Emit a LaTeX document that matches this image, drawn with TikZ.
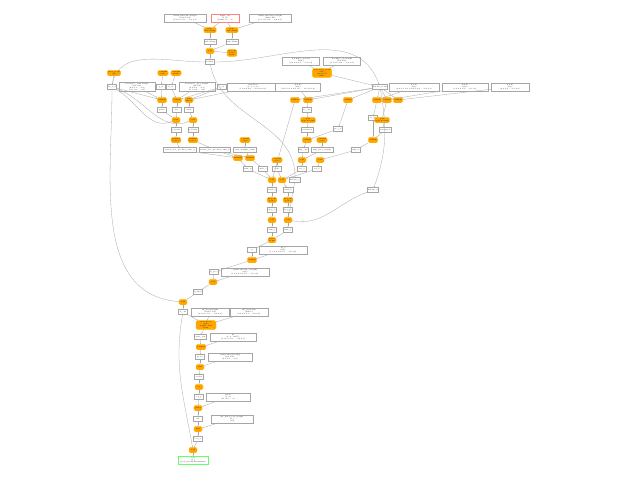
\documentclass[tikz,border=0pt]{standalone}
\usetikzlibrary{arrows.meta}
\definecolor{opfill}{RGB}{255,165,0}
\begin{document}
\begin{tikzpicture}[x=1pt,y=-1pt,
    every node/.style={font=\fontsize{1.7}{2}\selectfont, inner sep=0.8pt, align=center},
    op/.style={fill=opfill, draw=opfill!80!yellow, rounded corners=1.5pt, minimum width=8pt, minimum height=5.5pt},
    ten/.style={draw=gray!70, fill=white, minimum width=9pt, minimum height=5pt},
    par/.style={draw=gray!70, fill=white, minimum height=7.5pt},
    parred/.style={par, draw=red!50},
    outbox/.style={par, draw=green!60},
    conn/.style={-{Latex[length=1pt,width=1pt]}, draw=gray!70, line width=0.3pt}
]
\useasboundingbox (0,0) rectangle (640,480);

% top: embeddings
\node[par, minimum width=42pt] (p1) at (185,18) {transformer.wte.weight\\(50257, 64)\\{}[1.0 0.2 -0.1 ... 0.3 0.5]};
\node[parred, minimum width=28pt] (p2) at (225,18) {input\_ids\\(1, 8)\\{}[15496 11 ... 0]};
\node[par, minimum width=42pt] (p3) at (270,18) {transformer.wpe.weight\\(1024, 64)\\{}[0.1 -0.3 0.2 ... 0.0 0.1]};
\node[op] (o1) at (210,30) {aten::\\embedding};
\node[op] (o2) at (232,30) {aten::\\embedding};
\node[ten] (t1) at (210,42) {embedding};
\node[ten] (t2) at (232,42) {embedding};
\node[op] (o3) at (210,51) {add};
\node[op] (o4) at (232,53) {dropout\\p=0.1\\train};
\node[ten] (t3) at (210,62) {hidden};

% left block: attention
\node[op] (o5) at (114,73) {layer\_norm\\eps};
\node[op] (o6) at (163,73) {constant\\scale};
\node[op] (o7) at (176,73) {constant\\mask};
\node[ten] (t4) at (112,87) {ln\_1\_x};
\node[par, minimum width=36pt] (p4) at (137,87) {h.0.attn.c\_attn.weight\\(64, 192)\\{}[0.0 0.1 ... 0.2]\\{}[-0.1 0.3 ... 0.1]};
\node[ten] (t5) at (161,87) {q\_w};
\node[ten] (t6) at (171,87) {k\_w};
\node[par, minimum width=36pt] (p5) at (197,87) {h.0.attn.c\_proj.weight\\(64, 64)\\{}[0.2 0.0 ... 0.1]\\{}[0.1 -0.2 ... 0.0]};
\node[ten] (t7) at (222,87) {v\_w};
\node[par, minimum width=52pt] (p6) at (253,87) {attn.bias\\(1, 1, 8, 8)\\{}[1.0 0.0 0.0 ... 0.0 0.0 0.0]};
\node[op] (o8) at (162,100) {addmm};
\node[op] (o9) at (177,100) {addmm};
\node[op] (o10) at (189,100) {split\\dim=2};
\node[ten] (w1) at (162,110) {query};
\node[ten] (w2) at (177,110) {key};
\node[ten] (w3) at (189,110) {value};
\node[op] (o11) at (176,120) {view};
\node[op] (o12) at (193,120) {view};
\node[ten] (w4) at (176,130) {q\_heads};
\node[ten] (w5) at (193,130) {k\_heads};
\node[op] (o13) at (176,140) {permute\\0,2,1,3};
\node[op] (o14) at (193,140) {permute\\0,2,3,1};
\node[op] (o15p) at (245,140) {constant\\value};
\node[ten, minimum width=33pt] (b1) at (180,150) {scaled\_dot\_product\_attn\_q};
\node[ten, minimum width=29pt] (b2) at (215,150) {scaled\_dot\_product\_attn\_k};
\node[ten, minimum width=23pt] (b3) at (245,150) {attn\_weights\_value};
\node[op] (o15) at (238,158) {matmul};
\node[op] (o16) at (250,158) {matmul};
\node[op] (o16p) at (277,160) {constant\\scale};
\node[ten] (w6) at (248,169) {attn\_w};
\node[ten] (w7) at (263,169) {attn\_s};
\node[ten] (w8) at (277,169) {scale};

% right block: mlp
\node[par, minimum width=37pt] (p7) at (301,61) {h.0.mlp.c\_fc.bias\\(256,)\\{}[0.0 0.1 0.0 ... 0.1 0.2]};
\node[par, minimum width=37pt] (p8) at (342,61) {h.0.mlp.c\_fc.weight\\(64, 256)\\{}[0.1 0.0 -0.2 ... 0.1 0.0]};
\node[op, minimum width=16pt] (o20) at (322,73) {aten::layer\_norm\\(64,)\\eps=1e-05\\affine};
\node[par, minimum width=45pt] (pa) at (298,87) {h.0.ln\\(64,)\\{}[1.0 1.0 1.0 0.9 1.0 ... 1.0 1.0 1.0]};
\node[ten] (tv) at (380,87) {hidden\_norm};
\node[par, minimum width=50pt] (pb) at (414,87) {h.0.ln\\(64,)\\{}[0.0 0.1 -0.1 0.0 0.1 0.0 ... 0.0 0.1]};
\node[par, minimum width=46pt] (pc) at (465,87) {h.0.ln\\(64,)\\{}[1.0 0.9 1.0 ... 1.0 1.0]};
\node[par, minimum width=38pt] (pd) at (510,87) {h.0.ln\\(64,)\\{}[0.0 0.0 ... 0.1 0.0]};
\node[op] (r1) at (295,100) {addmm};
\node[op] (r2) at (308,100) {addmm};
\node[op] (r3) at (348,100) {addmm};
\node[op] (r4) at (377,100) {addmm};
\node[op] (r5) at (387,100) {addmm};
\node[op] (r6) at (398,100) {addmm};
\node[ten] (rw1) at (307,110) {fc\_out};
\node[op] (ro1) at (308,120) {gelu\\approx=tanh};
\node[ten] (rw6) at (373,118) {fc\_in};
\node[op] (ro6) at (382,120) {gelu\\approx=tanh};
\node[ten] (rw2) at (307,130) {activation};
\node[ten] (rw5) at (338,129) {proj\_b};
\node[ten] (rw9) at (385,130) {activation};
\node[op] (ro2) at (307,140) {addmm};
\node[op] (ro4p) at (322,140) {constant\\scale};
\node[op] (ro5) at (373,140) {addmm};
\node[ten] (rw3) at (303,150) {mlp\_out};
\node[ten, minimum width=22pt] (rw8) at (322,150) {mlp\_proj\_weight};
\node[ten] (rw7) at (356,150) {mlp\_b};
\node[op] (ro3) at (302,160) {add};
\node[op] (ro4) at (320,160) {add};
\node[ten] (rw4) at (302,169) {res\_a};
\node[ten] (rw10) at (317,169) {res\_b};
\node[ten] (hid) at (373,190) {hidden\_2};

% middle: merge
\node[op] (o17) at (272,180) {add};
\node[op] (o18) at (282,180) {add};
\node[ten] (wm) at (295,180) {hidden\_1};
\node[ten] (m1) at (272,190) {resid\_a};
\node[ten] (m2) at (288,190) {resid\_b};
\node[op] (mo1) at (272,200) {dropout\\p=0.1};
\node[op] (mo2) at (288,200) {dropout\\p=0.1};
\node[ten] (m3) at (272,210) {drop\_a};
\node[ten] (m4) at (288,210) {drop\_b};
\node[op] (mo3) at (272,220) {add};
\node[op] (mo4) at (288,220) {add};
\node[ten] (m5) at (272,230) {sum\_a};
\node[ten] (m6) at (288,230) {sum\_b};
\node[op] (mo5) at (272,240) {layer\\norm};
\node[ten] (x1) at (252,250) {x};
\node[par, minimum width=48pt] (xb) at (283,250) {ln\_f\\(64,)\\{}[1.0 1.0 0.9 1.0 ... 1.0 1.0]};
\node[op] (mo6) at (252,260) {addmm};

% bottom: head
\node[ten] (l1) at (214,272) {h\_proj};
\node[par, minimum width=48pt] (lb1) at (245,272) {transformer.ln\_f.weight\\(64,)\\{}[1.0 0.9 1.0 1.0 ... 1.0 1.0]};
\node[op] (mo7) at (213,282) {add};
\node[ten] (l2) at (198,292) {h\_final};
\node[op] (mo8) at (183,302) {add};
\node[ten] (l3) at (183,312) {h\_out};
\node[par, minimum width=38pt] (q1) at (210,312) {lm\_head.weight\\(50257, 64)\\{}[0.1 0.0 -0.1 ... 0.2 0.0]};
\node[par, minimum width=38pt] (q2) at (249,312) {lm\_head.bias\\(50257,)\\{}[0.0 0.0 0.1 ... 0.0 0.0]};
\node[op, minimum width=20pt] (lo1) at (206,325) {aten::linear\\(64,)\\weight, bias\\train};
\node[ten] (l4) at (200,337) {logits\_raw};
\node[par, minimum width=46pt] (lb2) at (233,337) {ln\\(1, 8, 50257)\\{}[0.1 0.2 -0.1 ... 0.0 0.1]};
\node[op] (lo2) at (201,347) {softmax};
\node[ten] (l5) at (200,357) {probs};
\node[par, minimum width=44pt] (lb3) at (230,357) {transformer.h.0.mlp\\(64, 256)\\{}[0.1 0.0 ... 0.2]};
\node[op] (lo3) at (200,367) {mul};
\node[ten] (l6) at (199,377) {scaled};
\node[op] (lo4) at (199,387) {log};
\node[ten] (l7) at (199,397) {log\_p};
\node[par, minimum width=44pt] (lb4) at (228,397) {labels\\(1, 8)\\{}[11 318 ... 0]};
\node[op] (lo5) at (198,408) {gather};
\node[ten] (l8) at (198,419) {nll};
\node[par, minimum width=42pt] (lb5) at (232,419) {lm\_head\_loss\_weight\\(1,)\\{}[1.0]};
\node[op] (lo6) at (198,429) {mul};
\node[ten] (l9) at (198,439) {loss\_a};
\node[op] (lo7) at (193,450) {add};
\node[outbox, minimum width=30pt] (out) at (193,460) {loss\\(1,)\\grad\_fn=AddBackward0};

% connectors
\foreach \a/\b in {p1/o1, p2/o1, p2/o2, p3/o2, o1/t1, o2/t2, t1/o3, t2/o3, o4/o3, o3/t3,
    o5/t4, o6/t5, o7/t6, t4/o8, p4/o8, t5/o8, t6/o9, p5/o9, t7/o9, t7/o10, p6/o10,
    o8/w1, o9/w2, o10/w3, w1/o11, w2/o11, w3/o12, o11/w4, o12/w5, w4/o13, w5/o14,
    o13/b1, o14/b2, o15p/b3, b1/o15, b2/o15, b2/o16, b3/o16, o16p/w8,
    o15/w6, o16/w7, w6/o17, w7/o17, w8/o18,
    p7/o20, p8/o20, o20/tv, tv/r1, tv/r2, tv/r3, tv/r4, tv/r5, tv/r6, pa/r2, pb/r4, pc/r5, pd/r6,
    r2/rw1, rw1/ro1, ro1/rw2, rw2/ro2, r3/rw5, rw5/ro2, r4/rw6, rw6/ro5, r5/ro6, ro6/rw9, rw9/ro5,
    ro2/rw3, ro4p/rw8, ro5/rw7, rw3/ro3, rw8/ro3, rw7/ro4, ro3/rw4, ro4/rw10, r1/o17,
    rw4/o18, rw10/o18, o17/m1, o18/m2, m1/mo1, m2/mo2, mo1/m3, mo2/m4, m3/mo3, m4/mo4, wm/mo4,
    mo3/m5, mo4/m6, m5/mo5, m6/mo5, mo5/x1, x1/mo6, xb/mo6, mo6/l1, l1/mo7, lb1/mo7, mo7/l2,
    l2/mo8, mo8/l3, q1/lo1, q2/lo1, l3/lo1, lo1/l4, l4/lo2, lb2/lo2, lo2/l5, l5/lo3, lb3/lo3,
    lo3/l6, l6/lo4, lo4/l7, l7/lo5, lb4/lo5, lo5/l8, l8/lo6, lb5/lo6, lo6/l9, l9/lo7, lo7/out}
  \draw[conn] (\a) -- (\b);
% long connectors
\draw[conn] (t3) to[out=180, in=80] (t4);
\draw[conn] (t3) to[out=0, in=110] (tv);
\draw[conn] (t4) to[out=-90, in=175] (mo8);
\draw[conn] (t4) to[out=-30, in=200] (o11);
\draw[conn] (t4) to[out=-20, in=200] (o12);
\draw[conn] (tv) to[out=-80, in=70] (hid);
\draw[conn] (hid) to[out=200, in=-10] (mo4);
\draw[conn] (t3) to[out=-80, in=90] (wm);
\draw[conn] (l3) to[out=-100, in=100] (lo7);
\end{tikzpicture}
\end{document}
